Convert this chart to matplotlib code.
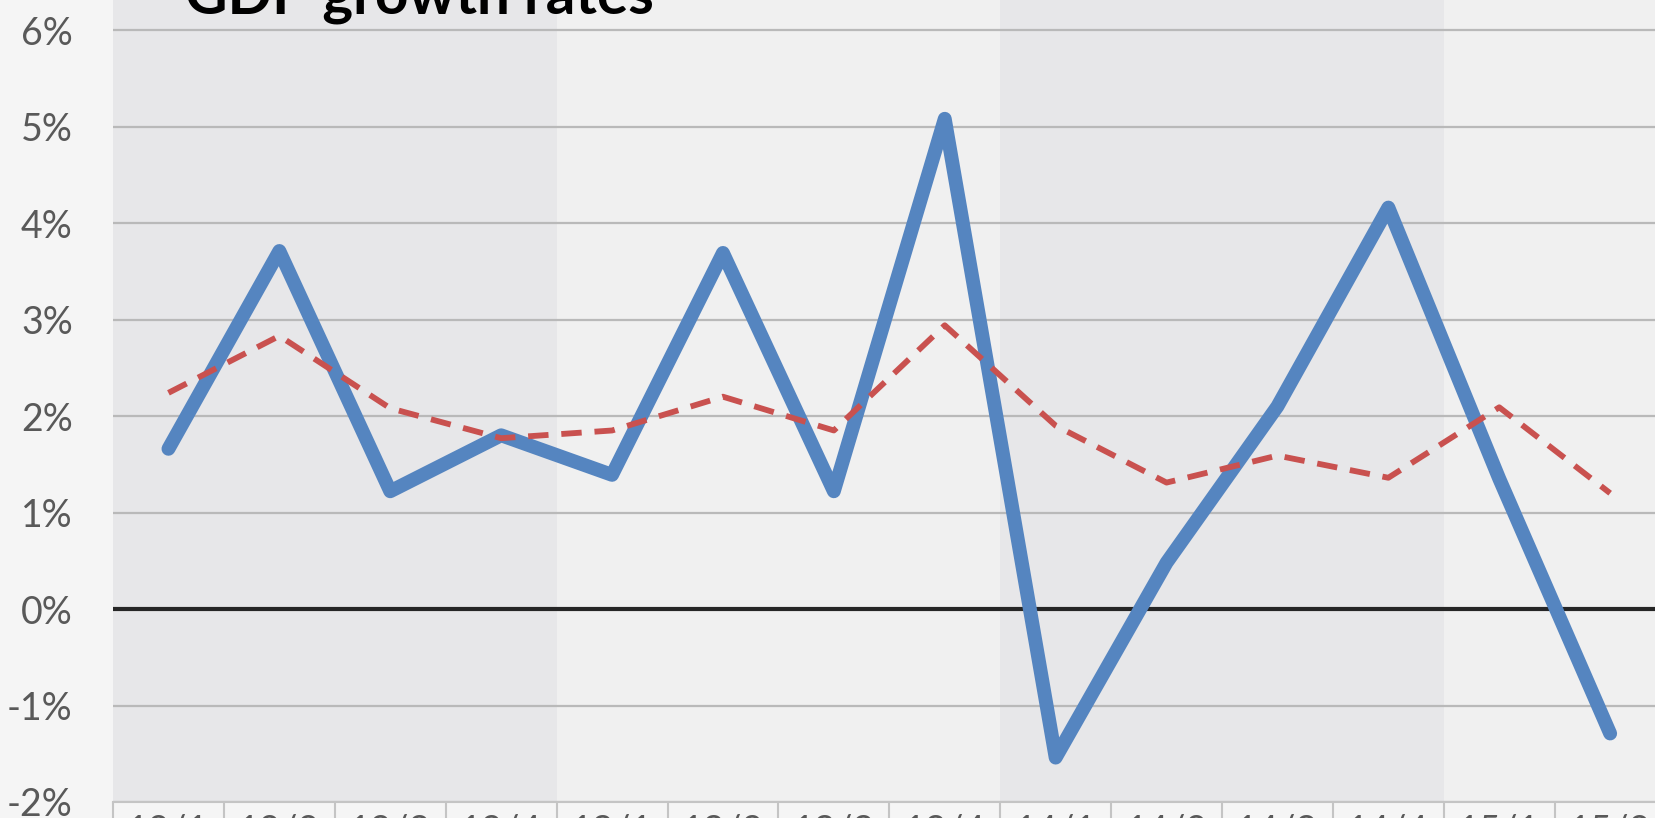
# GDP growth rates chart
import numpy as np
import matplotlib.pyplot as plt
from matplotlib.ticker import FixedLocator, NullFormatter

plt.rcParams['font.family'] = ['Lato', 'DejaVu Sans']

# Data
quarters = ['12/1', '12/2', '12/3', '12/4', '13/1', '13/2', '13/3', '13/4',
            '14/1', '14/2', '14/3', '14/4', '15/1', '15/2']
growth_blue = [1.66, 3.71, 1.22, 1.80, 1.39, 3.69, 1.22, 5.08,
               -1.54, 0.48, 2.10, 4.16, 1.35, -1.29]
growth_red = [2.24, 2.83, 2.08, 1.77, 1.85, 2.20, 1.85, 2.94,
              1.90, 1.31, 1.59, 1.36, 2.09, 1.20]
y_ticks = [-2, -1, 0, 1, 2, 3, 4, 5, 6]

x = np.arange(len(quarters))

fig = plt.figure(figsize=(16.55, 8.18), dpi=100, facecolor='#f5f5f5')
ax = fig.add_axes([113/1655, 16/818, 1 - 113/1655, 802/818])
ax.set_facecolor('#f0f0f0')

# alternating year bands
years = [q.split('/')[0] for q in quarters]
for i, yr in enumerate(sorted(set(years))):
    idx = [k for k, y in enumerate(years) if y == yr]
    col = '#e7e7e9' if i % 2 == 0 else '#f0f0f0'
    ax.axvspan(idx[0] - 0.5, idx[-1] + 0.5, color=col, lw=0, zorder=0)

for t in y_ticks:
    ax.axhline(t, color='#b9b9b9', lw=1.6, zorder=1)
ax.axhline(0, color='#262626', lw=3, zorder=2)

ax.plot(x, growth_blue, color='#5585c0', lw=10, solid_joinstyle='round',
        solid_capstyle='round', zorder=3)
ax.plot(x, growth_red, color='#c9514f', lw=4.2, dashes=(3.5, 2.2),
        zorder=4)

ax.set_xlim(-0.5, (1655 - 113) / 110.9 - 0.5)
ax.set_ylim(-2, 6 + 30 / 96.5)

ax.set_yticks(y_ticks)
ax.set_yticklabels([f'{t}%' for t in y_ticks], fontsize=27, color='#595959')
ax.tick_params(axis='y', length=0, pad=29)

# category axis: boxes between quarters, labels centred
ax.xaxis.set_major_locator(FixedLocator(np.arange(len(quarters) + 1) - 0.5))
ax.xaxis.set_major_formatter(NullFormatter())
ax.xaxis.set_minor_locator(FixedLocator(x))
ax.set_xticklabels(quarters, minor=True, fontsize=27, color='#595959')
ax.tick_params(axis='x', which='major', length=20, width=1.5, color='#c4c4c4')
ax.tick_params(axis='x', which='minor', length=0, pad=8)

for s in ['top', 'right', 'left']:
    ax.spines[s].set_visible(False)
ax.spines['bottom'].set_color('#c4c4c4')
ax.spines['bottom'].set_linewidth(1.5)

fig.text(185/1655, 1 - 14/818, 'GDP growth rates', fontsize=42,
         fontweight='bold', color='black', va='baseline', ha='left')

fig.savefig('out.png', dpi=100, facecolor=fig.get_facecolor())
